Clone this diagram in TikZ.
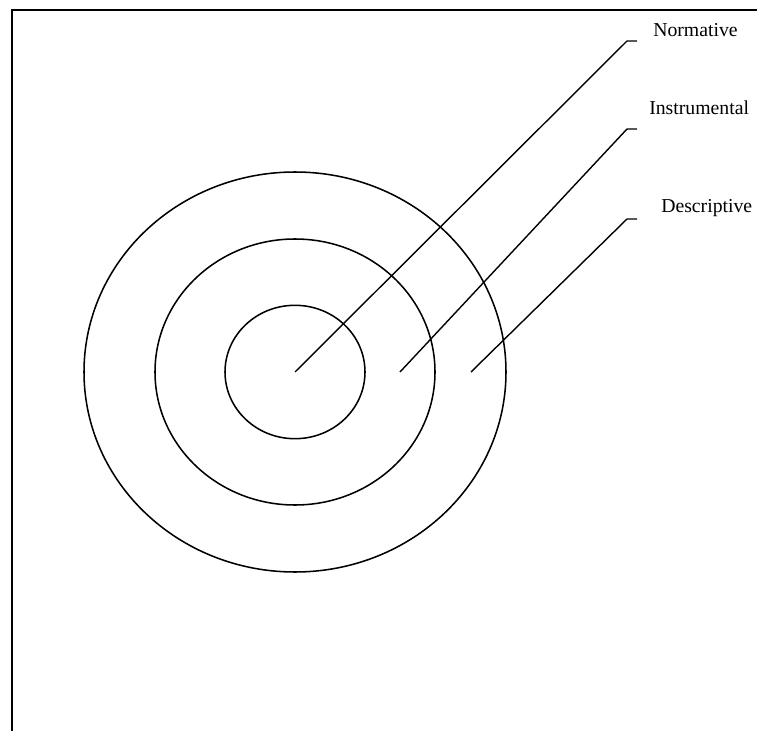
\documentclass[tikz,border=0pt]{standalone}
\usepackage{fontspec}
\setmainfont{Liberation Serif}

\begin{document}
\begin{tikzpicture}[x=.75pt, y=-.75pt, every node/.style={font=\fontsize{14.8}{17}\selectfont}]
				\useasboundingbox (0,0) rectangle (757,731);
				\draw[line width=1.5pt] (12,731) -- (12,10.5) -- (757,10.5);
				\node[shape=coordinate] (c) at (295,372) {};
				\node[shape=coordinate] (normEnd) at (295,372) {};
				\node[shape=coordinate] (instEnd) at (400,372) {};
				\node[shape=coordinate] (descEnd) at (471,372) {};
				\node[shape=coordinate] (normElbow) at (627,41) {};
				\node[shape=coordinate] (instElbow) at (627,129) {};
				\node[shape=coordinate] (descElbow) at (627,219) {};
				\node[anchor=base west, inner sep=0] (normLabel) at (653,36.7) {Normative};
				\node[anchor=base west, inner sep=0] (instLabel) at (649,115) {Instrumental};
				\node[anchor=base west, inner sep=0] (descLabel) at (661,213) {Descriptive};
				\begin{scope}[line width=1.15pt]
					\draw (c) ellipse (70 and 66.7);
					\draw (c) ellipse (140 and 133);
					\draw (c) ellipse (211 and 200);
				\end{scope}
				\begin{scope}[line width=1.05pt]
					\draw (normEnd) -- (normElbow) -- ++(10,0);
					\draw (instEnd) -- (instElbow) -- ++(10,0);
					\draw (descEnd) -- (descElbow) -- ++(10,0);
				\end{scope}
			\end{tikzpicture}
\end{document}
